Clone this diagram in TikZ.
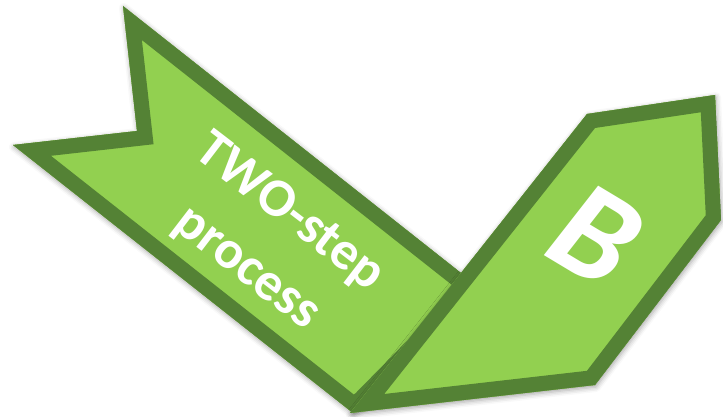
\documentclass[tikz,border=0pt]{standalone}
\usepackage{fontspec}
\setmainfont{Carlito}
\usetikzlibrary{shadows.blur}
\definecolor{dkgreen}{HTML}{548235}
\definecolor{ltgreen}{HTML}{92D050}

\begin{document}
\begin{tikzpicture}[x=1pt, y=-1pt, line join=miter,
    rim/.style={fill=ltgreen, draw=dkgreen, line width=30pt},
    soft/.style={blur shadow={shadow xshift=1pt, shadow yshift=-2pt,
        shadow blur radius=5pt, shadow opacity=35}},
    lettering/.style={text=white, inner sep=0pt}]
  \useasboundingbox (0,0) rectangle (723,417);
  % ribbon tail
  \coordinate (ta) at (123,6);
  \coordinate (tn) at (137,131);
  \coordinate (tb) at (13,145);
  \coordinate (tc) at (353,413);
  \coordinate (td) at (365,405);
  \coordinate (te) at (480,288);
  \fill[dkgreen, soft] (ta) -- (tn) -- (tb) -- (tc) -- (td) -- (te) -- cycle;
  \begin{scope}
    \clip (ta) -- (tn) -- (tb) -- (tc) -- (td) -- (te) -- cycle;
    \path[rim] (ta) -- (tn) -- (tb) -- (tc) -- (td) -- (te) -- cycle;
  \end{scope}
  \coordinate (lc) at (268,241);
  \node[lettering, align=center, rotate=-37.5,
        font=\bfseries\fontsize{54}{70}\selectfont] (lbl) at (lc)
        {TWO-step\\process};
  % head block
  \coordinate (ha) at (350,413);
  \coordinate (hb) at (587,114);
  \coordinate (hc) at (715,95);
  \coordinate (hd) at (721,220);
  \coordinate (he) at (595,385);
  \fill[dkgreen, soft] (ha) -- (hb) -- (hc) -- (hd) -- (he) -- cycle;
  \begin{scope}
    \clip (ha) -- (hb) -- (hc) -- (hd) -- (he) -- cycle;
    \path[rim] (ha) -- (hb) -- (hc) -- (hd) -- (he) -- cycle;
  \end{scope}
  \coordinate (bc) at (597,236);
  \node[lettering, cm={0.857,-0.515,0.616,0.788,(0,0)},
        font=\bfseries\fontsize{136}{136}\selectfont] (b) at (bc) {B};
\end{tikzpicture}
\end{document}
